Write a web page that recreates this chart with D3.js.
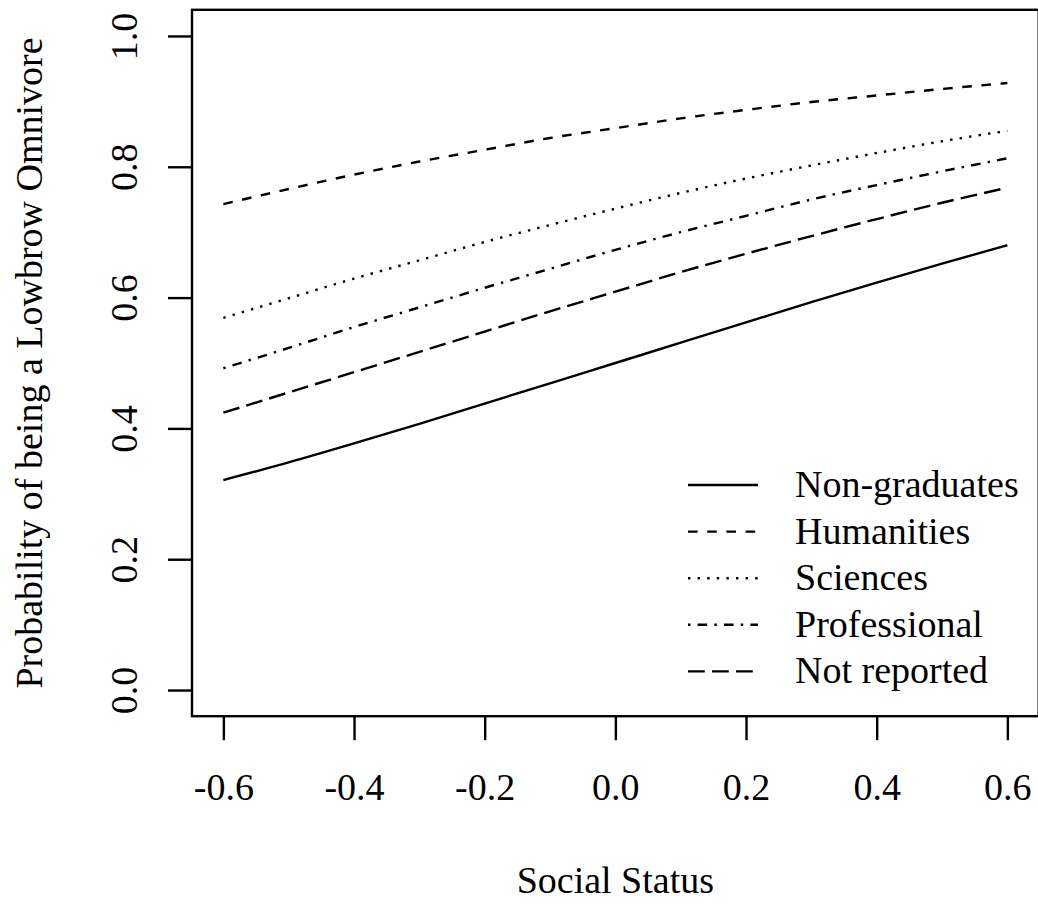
<!DOCTYPE html>
<html lang="en">
<head>
    <meta charset="UTF-8">
    <title>Probability of being a Lowbrow Omnivore</title>
    <script src="https://cdn.jsdelivr.net/npm/d3@7"></script>
    <style>
        body {
            margin: 0;
            padding: 0;
            background-color: #ffffff;
        }
        svg text {
            font-family: 'Liberation Serif', 'Times New Roman', serif;
            font-size: 38px;
            fill: #000;
        }
    </style>
</head>
<body>
<svg id="chart" width="1038" height="904"></svg>
<script>
    // social status values where each curve was read
    const statusValues = [-0.6, -0.5, -0.4, -0.3, -0.2, -0.1, 0.0, 0.1, 0.2, 0.3, 0.4, 0.5, 0.6];

    const nonGraduates = [0.321, 0.348, 0.377, 0.407, 0.438, 0.469, 0.500, 0.531, 0.562, 0.593, 0.623, 0.652, 0.680];
    const humanities   = [0.743, 0.766, 0.788, 0.808, 0.826, 0.844, 0.859, 0.874, 0.887, 0.899, 0.909, 0.919, 0.928];
    const sciences     = [0.569, 0.599, 0.629, 0.657, 0.685, 0.711, 0.736, 0.760, 0.782, 0.802, 0.821, 0.839, 0.855];
    const professional = [0.492, 0.523, 0.555, 0.585, 0.615, 0.644, 0.673, 0.700, 0.725, 0.750, 0.772, 0.793, 0.813];
    const notReported  = [0.424, 0.455, 0.486, 0.517, 0.548, 0.579, 0.609, 0.639, 0.667, 0.694, 0.720, 0.745, 0.768];

    const seriesNames = ["Non-graduates", "Humanities", "Sciences", "Professional", "Not reported"];
    const seriesValues = [nonGraduates, humanities, sciences, professional, notReported];
    // R line types: solid, dashed, dotted, dotdash, longdash
    const dashes = [null, "9.6,9.6", "2.4,7.2", "2.4,7.2,9.6,7.2", "16.8,7.2"];

    const xTicks = [-0.6, -0.4, -0.2, 0.0, 0.2, 0.4, 0.6];
    const yTicks = [0.0, 0.2, 0.4, 0.6, 0.8, 1.0];

    const svg = d3.select("#chart");
    const lw = 2.4;

    // plot region (R style 4% padding on both axes)
    const plotLeft = 192, plotRight = 1038.7, plotTop = 9.8, plotBottom = 716.2;

    const x = d3.scaleLinear().domain([-0.648, 0.648]).range([plotLeft, plotRight]);
    const y = d3.scaleLinear().domain([-0.04, 1.04]).range([plotBottom, plotTop]);

    const line = d3.line()
        .x(d => x(d[0]))
        .y(d => y(d[1]))
        .curve(d3.curveMonotoneX);

    svg.append("g")
        .selectAll("path")
        .data(seriesValues)
        .enter().append("path")
        .attr("d", vals => line(statusValues.map((s, i) => [s, vals[i]])))
        .attr("fill", "none")
        .attr("stroke", "#000")
        .attr("stroke-width", lw)
        .attr("stroke-dasharray", (d, i) => dashes[i]);

    // box
    svg.append("rect")
        .attr("x", plotLeft)
        .attr("y", plotTop)
        .attr("width", plotRight - plotLeft)
        .attr("height", plotBottom - plotTop)
        .attr("fill", "none")
        .attr("stroke", "#000")
        .attr("stroke-width", lw);

    // x axis
    const xAxis = svg.append("g")
        .attr("transform", `translate(0,${plotBottom})`)
        .call(d3.axisBottom(x).tickValues(xTicks).tickSize(24).tickFormat(d => d.toFixed(1)));
    xAxis.select(".domain").remove();
    xAxis.selectAll(".tick line").attr("stroke", "#000").attr("stroke-width", lw);
    xAxis.selectAll(".tick text")
        .attr("y", 84)
        .attr("dy", 0)
        .attr("font-family", null)
        .attr("font-size", null);
    xAxis.attr("font-family", null).attr("font-size", null);

    // y axis, labels parallel to the axis
    const yAxis = svg.append("g")
        .attr("transform", `translate(${plotLeft},0)`)
        .call(d3.axisLeft(y).tickValues(yTicks).tickSize(24).tickFormat(d => d.toFixed(1)));
    yAxis.select(".domain").remove();
    yAxis.attr("font-family", null).attr("font-size", null);
    yAxis.selectAll(".tick line").attr("stroke", "#000").attr("stroke-width", lw);
    yAxis.selectAll(".tick text")
        .attr("transform", "rotate(-90)")
        .attr("x", 0)
        .attr("y", -55)
        .attr("dy", 0)
        .attr("text-anchor", "middle");

    // axis titles
    svg.append("text")
        .attr("x", (plotLeft + plotRight) / 2)
        .attr("y", 893)
        .attr("text-anchor", "middle")
        .text("Social Status");

    svg.append("text")
        .attr("transform", `translate(42,${(plotTop + plotBottom) / 2}) rotate(-90)`)
        .attr("text-anchor", "middle")
        .text("Probability of being a Lowbrow Omnivore");

    // legend
    const legend = svg.append("g")
        .selectAll("g")
        .data(seriesNames)
        .enter().append("g")
        .attr("transform", (d, i) => `translate(0,${485 + i * 46.6})`);

    legend.append("line")
        .attr("x1", 688)
        .attr("x2", 758)
        .attr("y1", 0)
        .attr("y2", 0)
        .attr("stroke", "#000")
        .attr("stroke-width", lw)
        .attr("stroke-dasharray", (d, i) => dashes[i]);

    legend.append("text")
        .attr("x", 795)
        .attr("y", 12)
        .text(d => d);
</script>
</body>
</html>
